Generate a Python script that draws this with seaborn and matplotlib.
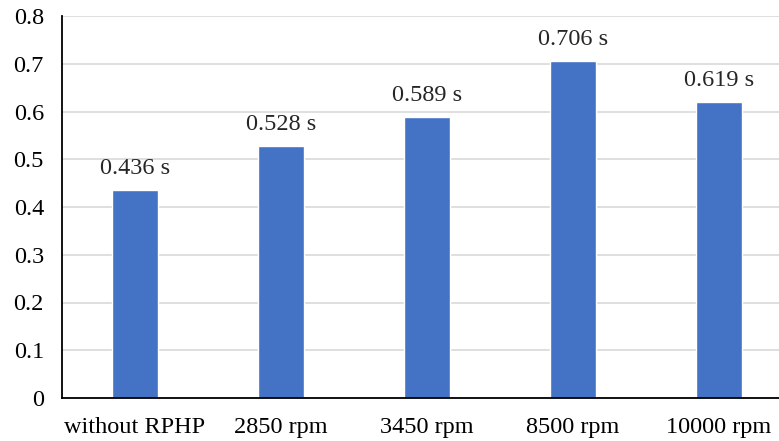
import matplotlib
matplotlib.use("Agg")
import matplotlib.pyplot as plt
import seaborn as sns
import pandas as pd

categories = ["without RPHP", "2850 rpm", "3450 rpm", "8500 rpm", "10000 rpm"]
values = [0.436, 0.528, 0.589, 0.706, 0.619]
labels = ["0.436 s", "0.528 s", "0.589 s", "0.706 s", "0.619 s"]
yticks = [0, 0.1, 0.2, 0.3, 0.4, 0.5, 0.6, 0.7, 0.8]
ytick_labels = ["0", "0.1", "0.2", "0.3", "0.4", "0.5", "0.6", "0.7", "0.8"]

df = pd.DataFrame({"cat": categories, "val": values})

sns.set_style("white")
plt.rcParams["font.family"] = ["Liberation Serif", "DejaVu Serif"]

fig = plt.figure(figsize=(7.79, 4.41), dpi=100)
ax = fig.add_axes([62/779, 1-398/441, 730/779, (398-16)/441])
sns.barplot(data=df, x="cat", y="val", color="#4472C4", saturation=1, width=0.315, ax=ax)
ax.set_xlim(-0.5, 4.5)
ax.set_ylim(0, 0.8)
ax.set_yticks(yticks)
ax.set_yticklabels(ytick_labels)
ax.yaxis.grid(True, color="#D9D9D9", linewidth=1.2)
ax.set_axisbelow(True)
ax.set_xlabel("")
ax.set_ylabel("")
for s in ["top", "right"]:
    ax.spines[s].set_visible(False)
ax.spines["left"].set_color("black")
ax.spines["bottom"].set_color("black")
ax.spines["left"].set_linewidth(1.3)
ax.spines["bottom"].set_linewidth(1.3)
ax.tick_params(axis="both", length=0, labelsize=17.5, colors="black")
ax.tick_params(axis="y", pad=13)
ax.tick_params(axis="x", pad=14)
for c in ax.containers:
    ax.bar_label(c, labels=labels, padding=8, fontsize=17.5)
fig.savefig("out.png", dpi=100)
